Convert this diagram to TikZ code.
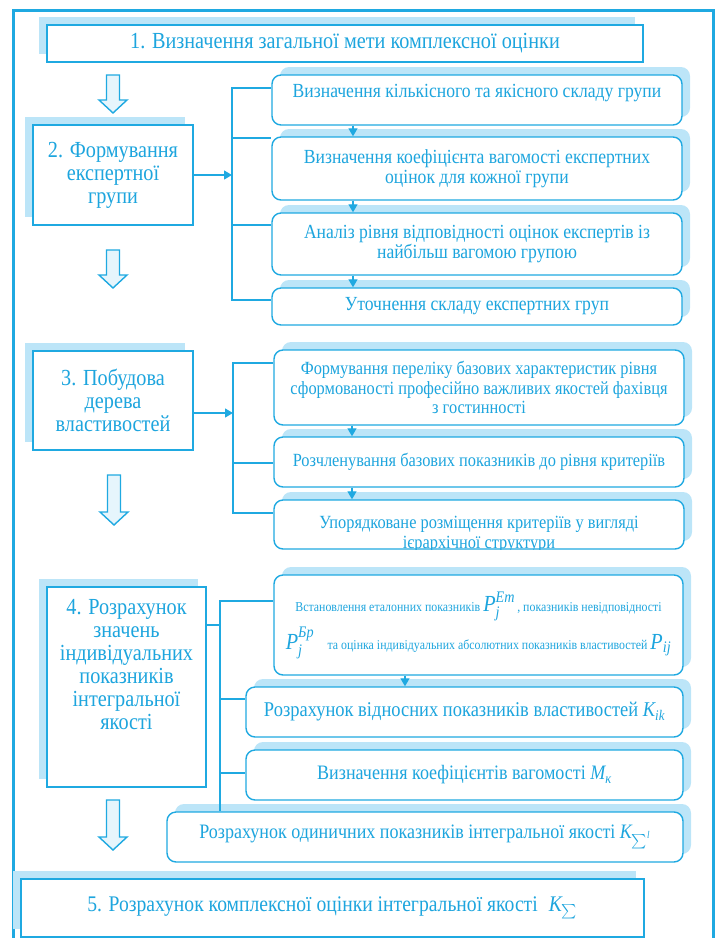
\documentclass[tikz,border=0pt]{standalone}
\usepackage{amsmath}
\usepackage{fontspec}
\setmainfont[FakeStretch=0.88]{Liberation Serif}
\usetikzlibrary{arrows.meta,shadows}
\definecolor{linec}{HTML}{1FA9E1}
\definecolor{shadc}{HTML}{BCE5F8}
\definecolor{arrc}{HTML}{E6F5FC}
\definecolor{textc}{HTML}{1DA5DE}
\newcommand{\mv}[1]{\text{\itshape #1}}
\newcommand{\bigmath}[1]{{\fontsize{23}{38}\selectfont$#1$}}
% hollow arrow between the stages: x, top, tip
\newcommand{\hollowdown}[3]{%
  \draw[bigarr] (#1-6.5,#2) -- (#1+6.5,#2) -- (#1+6.5,#3-13) -- (#1+14,#3-13)
    -- (#1,#3) -- (#1-14,#3-13) -- (#1-6.5,#3-13) -- cycle;}
\tikzset{
  boxbase/.style={draw=linec, line width=1.4pt, fill=white, text=textc, align=center, inner sep=0pt},
  sqbox/.style={boxbase, general shadow={draw=none, fill=shadc, shadow xshift=-8pt, shadow yshift=8pt}},
  rbox/.style={boxbase, rounded corners=9pt, general shadow={draw=none, fill=shadc, shadow xshift=8pt, shadow yshift=8pt}},
  fbig/.style={font=\fontsize{23}{23}\selectfont},
  fmid/.style={font=\fontsize{20}{20}\selectfont},
  fless/.style={font=\fontsize{18.6}{19.5}\selectfont},
  fsmall/.style={font=\fontsize{13.5}{38}\selectfont},
  wire/.style={draw=linec, line width=1.3pt},
  wirearr/.style={wire, -{Triangle[length=8pt,width=9pt]}},
  bigarr/.style={draw=linec, line width=1.4pt, fill=arrc},
}
\begin{document}
\begin{tikzpicture}[x=1pt,y=-1pt]
\useasboundingbox (0,0) rectangle (717,938);
%\draw[help lines, step=50] (0,0) grid (717,938);

\draw[linec, line width=3pt] (13,960) -- (13,10) -- (713,10) -- (713,960);

% stage 1
\node[sqbox, fbig, minimum width=596pt, minimum height=37pt] (goal) at (345,43.5)
  {1. Визначення загальної мети комплексної оцінки};
\hollowdown{113}{75}{113}

% stage 2
\node[sqbox, fbig, minimum width=160pt, minimum height=100pt] (team) at (113,175)
  {2. Формування\\експертної\\групи};
\node[rbox, minimum width=410pt, minimum height=50pt,
  label={[fmid, text=textc, yshift=7pt]center:Визначення кількісного та якісного складу групи}] (teamA) at (477,100) {};
\node[rbox, fmid, minimum width=410pt, minimum height=63pt] (teamB) at (477,168.5)
  {Визначення коефіцієнта вагомості експертних\\оцінок для кожної групи};
\node[rbox, fmid, minimum width=410pt, minimum height=62pt] (teamC) at (477,244)
  {Аналіз рівня відповідності оцінок експертів із\\найбільш вагомою групою};
\node[rbox, fmid, minimum width=410pt, minimum height=37pt] (teamD) at (477,306.5)
  {Уточнення складу експертних груп};
\hollowdown{113}{250}{288}

\coordinate (b2a) at (232,88);
\coordinate (b2b) at (232,138);
\coordinate (b2c) at (232,225);
\coordinate (b2d) at (232,300);
\draw[wirearr] (team.east) -- (team.east -| b2a);
\draw[wire] (b2a -| teamA.west) -- (b2a) -- (b2d) -- (b2d -| teamD.west);
\draw[wire] (b2b) -- (b2b -| teamB.west);
\draw[wire] (b2c) -- (b2c -| teamC.west);
\coordinate (ax2) at (353,0);
\draw[wirearr] (teamA.south -| ax2) -- (teamB.north -| ax2);
\draw[wirearr] (teamB.south -| ax2) -- (teamC.north -| ax2);
\draw[wirearr] (teamC.south -| ax2) -- (teamD.north -| ax2);

% stage 3
\node[sqbox, fbig, minimum width=160pt, minimum height=99pt] (tree) at (113,400.5)
  {3. Побудова\\дерева\\властивостей};
\node[rbox, fless, minimum width=410pt, minimum height=75pt] (treeA) at (479,387.5)
  {Формування переліку базових характеристик рівня\\сформованості професійно важливих якостей фахівця\\з гостинності};
\node[rbox, fless, minimum width=410pt, minimum height=50pt] (treeB) at (479,462)
  {Розчленування базових показників до рівня критеріїв};
\node[rbox, minimum width=410pt, minimum height=49pt,
  path picture={\node[fless, text=textc, align=center] at ([yshift=-10pt]path picture bounding box.center)
  {Упорядковане розміщення критеріїв у вигляді\\ієрархічної структури};}] (treeC) at (479,524.5) {};
\hollowdown{114}{475}{525}

\coordinate (b3a) at (233,363);
\coordinate (b3m) at (233,413);
\coordinate (b3b) at (233,463);
\coordinate (b3c) at (233,513);
\draw[wirearr] (b3m -| tree.east) -- (b3m);
\draw[wire] (b3a -| treeA.west) -- (b3a) -- (b3c) -- (b3c -| treeC.west);
\draw[wire] (b3b) -- (b3b -| treeB.west);
\coordinate (ax3) at (352,0);
\draw[wirearr] (treeA.south -| ax3) -- (treeB.north -| ax3);
\draw[wirearr] (treeB.south -| ax3) -- (treeC.north -| ax3);

% stage 4
\node[sqbox, minimum width=159pt, minimum height=200pt,
  label={[fbig, text=textc, align=center, yshift=22pt]center:4. Розрахунок\\значень\\індивідуальних\\показників\\інтегральної\\якості}] (calc) at (126.5,687) {};
\node[rbox, fsmall, minimum width=409pt, minimum height=100pt] (calcA) at (478.5,625)
  {Встановлення еталонних показників \bigmath{\mv{P}_{\mv{j}}^{\mv{Em}}}\,, показників невідповідності\\
   \bigmath{\mv{P}_{\mv{j}}^{\mv{Бр}}}\quad та оцінка індивідуальних абсолютних показників властивостей \bigmath{\mv{P}_{\mv{ij}}}};
\node[rbox, fmid, font=\fontsize{21}{21}\selectfont, minimum width=437pt, minimum height=50pt] (calcB) at (464.5,712)
  {Розрахунок відносних показників властивостей $\mv{K}_{\mv{ik}}$};
\node[rbox, fmid, font=\fontsize{20.5}{21}\selectfont, minimum width=437pt, minimum height=50pt] (calcC) at (464.5,775)
  {Визначення коефіцієнтів вагомості $\mv{M}_{\mv{к}}$};
\node[rbox, fmid, font=\fontsize{20.5}{21}\selectfont, minimum width=516pt, minimum height=50pt] (calcD) at (425,837)
  {Розрахунок одиничних показників інтегральної якості $\mv{K}_{\sum^{\mv{l}}}$};
\hollowdown{113}{800}{850}

\coordinate (b4a) at (220,601);
\coordinate (b4m) at (220,625);
\coordinate (b4b) at (220,699);
\coordinate (b4c) at (220,773);
\draw[wire] (b4m -| calc.east) -- (b4m);
\draw[wire] (b4a -| calcA.west) -- (b4a) -- (b4a |- calcD.north);
\draw[wire] (b4b) -- (b4b -| calcB.west);
\draw[wire] (b4c) -- (b4c -| calcC.west);
\coordinate (ax4) at (405,0);
\draw[wirearr] (calcA.south -| ax4) -- (calcB.north -| ax4);

% stage 5
\node[sqbox, font=\fontsize{22.3}{23}\selectfont, minimum width=623pt, minimum height=58pt] (total) at (332.5,908)
  {5. Розрахунок комплексної оцінки інтегральної якості\enspace$\mv{K}_{\sum}$};

\end{tikzpicture}
\end{document}
